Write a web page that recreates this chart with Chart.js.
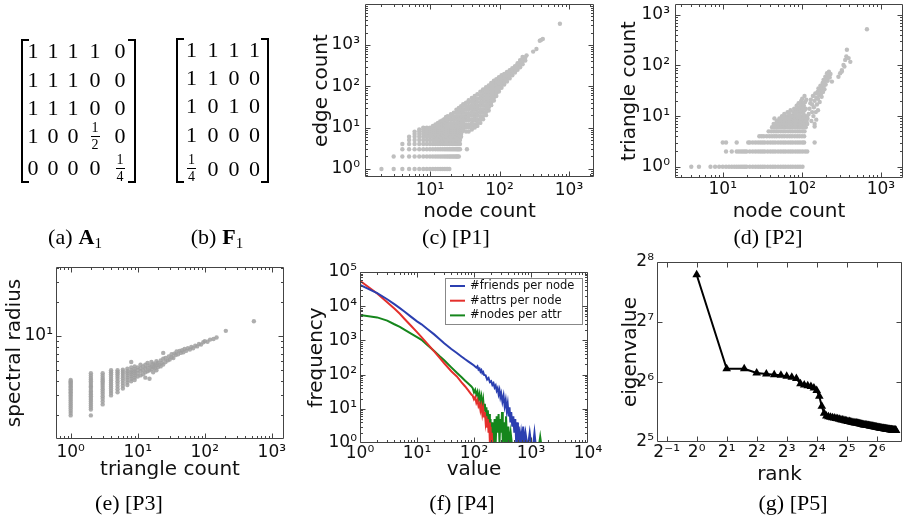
<!DOCTYPE html>
<html>
<head>
<meta charset="utf-8">
<script src="https://cdn.jsdelivr.net/npm/chart.js@4.4.1/dist/chart.umd.min.js"></script>
<style>
html, body { margin: 0; padding: 0; background: #fff; }
#fig { position: relative; width: 906px; height: 519px; overflow: hidden; background: #fff; }
#fig canvas { position: absolute; left: 0; top: 0; }
.cap { position: absolute; font-family: "Liberation Serif", serif; font-size: 22px; line-height: 1;
       transform: translate(-50%, -50%); white-space: nowrap; color: #000; }
.cap b { margin-left: 6px; }
.cap sub { font-size: 15px; vertical-align: -4px; line-height: 0; }
.br { position: absolute; box-sizing: border-box; border: 2px solid #000; width: 8px; }
.br.l { border-right: none; }
.br.r { border-left: none; }
.mx { position: absolute; display: grid; font-family: "Liberation Serif", serif; font-size: 22px; line-height: 1; color: #000; }
.mx > span { display: flex; align-items: center; justify-content: center; }
.fr { display: inline-flex; flex-direction: column; align-items: center; font-size: 14px; line-height: 1; }
.fr i { font-style: normal; padding: 0 1px; }
.fr i:first-child { border-bottom: 1px solid #000; padding-bottom: 1px; margin-bottom: 1px; }
</style>
</head>
<body>
<div id="fig">
  <canvas id="p1" width="906" height="519"></canvas>
  <canvas id="p2" width="906" height="519"></canvas>
  <canvas id="p3" width="906" height="519"></canvas>
  <canvas id="p4" width="906" height="519"></canvas>
  <canvas id="p5" width="906" height="519"></canvas>

  <div class="br l" style="left:21px;top:39px;height:144px"></div>
  <div id="mA" class="mx" style="left:23px;top:36px;grid-template-columns:20px 20px 20px 24px 26px;grid-template-rows:29px 29px 28px 28px 36px"></div>
  <div class="br r" style="left:128px;top:39px;height:144px"></div>

  <div class="br l" style="left:176px;top:38px;height:145px"></div>
  <div id="mF" class="mx" style="left:181px;top:35px;grid-template-columns:21px 22px 20px 21px;grid-template-rows:29px 28px 28px 30px 37px"></div>
  <div class="br r" style="left:261px;top:38px;height:145px"></div>

  <div class="cap" style="left:75px;top:237px">(a)<b>A</b><sub>1</sub></div>
  <div class="cap" style="left:217px;top:237px">(b)<b>F</b><sub>1</sub></div>
  <div class="cap" style="left:456px;top:237px">(c) [P1]</div>
  <div class="cap" style="left:768px;top:237px">(d) [P2]</div>
  <div class="cap" style="left:129px;top:503px">(e) [P3]</div>
  <div class="cap" style="left:462px;top:503px">(f) [P4]</div>
  <div class="cap" style="left:793px;top:503px">(g) [P5]</div>
</div>

<script>
// ---------- data ----------
const matA = [['1','1','1','1','0'], ['1','1','1','0','0'], ['1','1','1','0','0'], ['1','0','0','1/2','0'], ['0','0','0','0','1/4']];
const matF = [['1','1','1','1'], ['1','1','0','0'], ['1','0','1','0'], ['1','0','0','0'], ['1/4','0','0','0']];

// (c) P1: node count vs edge count. rows: [edges, node counts]
const p1Rows = [
  [1, [2,3,4,5,6,7,8,9,10,11,12,13,14,15,16,17,18,19]],
  [2, [3,4,5,6,7,8,9,10,11,12,13,14,15,16,17,18,19,20,21,22,23,24,25,26]],
  [3, [4,5,6,7,8,9,10,11,12,13,14,15,16,17,18,19,20,21,22,23,24,25,26,27,34]],
  [4, [4,5,6,7,8,9,10,11,12,13,14,15,16,17,18,19,20,21,22,23,24,25,26,27]],
  [5, [5,6,7,8,9,10,11,12,13,14,15,16,17,18,19,20,21,22,23,24,25,26,27]],
  [6, [5,6,7,8,9,10,11,12,13,14,15,16,17,18,19,20,21,22,23,24,25,26,27,28]],
  [7, [6,7,8,9,10,11,12,13,14,15,16,17,18,19,20,21,22,23,24,25,26,27,28]],
  [8, [6,7,8,9,10,11,12,13,14,15,16,17,18,19,20,21,22,23,24,25,26,27,28,29]],
  [9, [7,8,9,10,11,12,13,14,15,16,17,18,19,20,21,22,23,24,25,26,27,28,29]],
  [10, [8,9,10,11,12,13,14,15,16,17,18,19,20,21,22,23,24,25,26,27,28,29,30]]
];
// cloud: [node count, edge counts]
const p1Cloud = [
  [11, [11]], [12, [11, 12]], [13, [11, 12, 13]], [14, [11, 12, 13, 14]],
  [15, [11, 13, 15]], [16, [11, 13, 15, 16]], [17, [11, 13, 15, 17, 18]],
  [18, [11, 13, 15, 17, 19]], [20, [11, 13, 16, 19, 21]], [22, [11, 13, 16, 19, 23]],
  [24, [11, 13, 16, 19, 23, 27]], [26, [11, 13, 16, 19, 23, 28, 30]],
  [28, [11, 13, 16, 19, 23, 28, 33]], [30, [9, 11, 13, 16, 19, 23, 28, 34, 37]],
  [33, [8, 10, 12, 15, 18, 22, 27, 33, 40]], [36, [8, 10, 12, 15, 18, 22, 27, 33, 40, 46]],
  [40, [9, 11, 13, 16, 20, 24, 29, 35, 42, 52]], [44, [10, 12, 15, 18, 22, 27, 33, 40, 48, 58]],
  [48, [11, 13, 16, 20, 24, 29, 35, 42, 51, 64]], [53, [13, 16, 19, 23, 28, 34, 41, 50, 60, 74]],
  [58, [16, 19, 23, 28, 34, 41, 49, 58, 70, 84]], [64, [20, 24, 29, 35, 42, 50, 60, 72, 84, 95]],
  [70, [26, 31, 37, 44, 52, 62, 74, 88, 105]], [76, [35, 41, 48, 57, 67, 79, 93, 108, 120]],
  [83, [45, 53, 62, 73, 86, 100, 118, 136]], [90, [58, 68, 80, 94, 110, 128, 148]],
  [98, [75, 87, 100, 116, 134, 155, 165]], [107, [92, 106, 122, 140, 162, 185]],
  [117, [110, 127, 146, 168, 200]], [128, [130, 150, 172, 198, 222]],
  [140, [155, 178, 205, 245]], [153, [185, 212, 242, 275]], [167, [215, 245, 275, 308]],
  [182, [250, 290, 330, 360]], [198, [290, 335, 385, 430]], [215, [340, 400, 460, 510]], [235, [420, 500]]
];
const p1Extra = [[245,560],[305,690],[340,800],[380,1260],[400,1330],[420,1400],[740,3250]];

// (d) P2: node count vs triangle count. rows: [triangles, node counts]
const p2Rows = [
  [1, [4,5,7,8,9,10,11,12,13,14,15,16,17,18,19,20,22,24,26,28,30,32,34,37,40,43,46,50,54,58,62,67,72,77,83,89,95,102]],
  [2, [11,13,15,16,17,18,19,20,22,24,26,28,30,32,34,37,40,43,46,50,54,58,62,67,72,77,83,89,95,102,110,117]],
  [3, [10,11,15,21,22,24,26,28,30,32,34,37,40,43,46,50,54,58,62,67,72,77,83,89,95,102,107,145]],
  [4, [29,31,33,36,39,42,45,48,52,56,60,65,70,75,81,87,93,100,107]],
  [5, [38,41,44,47,50,54,58,62,67,72,77,83,89,95,102,108]],
  [6, [42,45,48,52,56,60,65,70,75,81,87,93,100,106,112]],
  [7, [44,47,51,55,59,64,70,76,82,88,94,100,107,117,145]],
  [8, [48,52,56,60,65,70,76,82,88,94,100,107,115]],
  [9, [55,59,64,70,76,82,88,95,102,110]],
  [10, [60,65,70,76,82,88,95,102,110,117]]
];
const p2Cloud = [
  [45,9],[52,9],[56,10],[60,11],[64,9],[66,12],[70,9],[70,11],[72,13],[75,10],[78,12],[80,14],
  [82,11],[85,13],[86,16],[88,9.5],[88,12],[90,14],[91,18],[93,11],[94,15],[95,9.5],[96,13],
  [97,17],[98,20],[100,12],[100,15],[101,22],[103,14],[104,9.5],[104,18],[105,11],[106,16],
  [108,13],[108,25],[110,19],[112,14],[114,21],
  [118,9],[122,11],[125,14],[128,18],[130,21],[132,8],[135,12],[135,17],[138,25],[140,10],
  [142,15],[145,20],[145,6.2],[148,28],[150,12],[152,8.5],[152,23],[155,17],[158,30],[160,13],
  [160,22],[162,35],[165,26],[168,19],[170,32],[172,40],[175,28],[178,24],[180,36],[183,45],
  [185,30],[188,52],[190,40],[193,34],[195,48],[198,60],[200,42],[205,55],[208,70],[212,50],
  [215,65],[220,75],[225,58],[230,68],[240,48],
  [290,60],[305,70],[320,76],[320,81],[336,102],[345,95],[353,129],[365,150],[371,204],[390,140],[410,118],[665,519]
];

// (e) P3: triangle count vs spectral radius. columns: [triangles, radii]
const p3Cols = [
  [1, [2.0,2.1,2.2,2.3,2.4,2.5,2.6,2.7,2.8,2.9,3.0,3.1,3.2,3.3,3.4,3.5,3.6,3.7,3.8,3.9,4.0,4.1]],
  [2, [2.0,2.25,2.35,2.45,2.55,2.65,2.75,2.85,2.95,3.05,3.15,3.25,3.35,3.5,3.6,3.7,3.85,4.0,4.15,4.3,4.5,4.7]],
  [3, [2.5,2.65,2.8,2.95,3.1,3.25,3.4,3.55,3.7,3.85,4.0,4.15,4.3,4.5,4.7]],
  [4, [3.0,3.15,3.3,3.45,3.6,3.75,3.9,4.05,4.2,4.4,4.6,4.8,5.0]],
  [5, [3.2,3.4,3.6,3.8,4.0,4.2,4.4,4.6,4.8,5.0]],
  [6, [3.45,3.65,3.85,4.05,4.25,4.45,4.65,4.85,5.05]],
  [7, [3.7,3.9,4.1,4.3,4.5,4.7,4.9,5.15]],
  [8, [4.0,4.2,4.4,4.6,4.8,5.0,5.3,5.9]],
  [9, [4.1,4.3,4.5,4.7,4.9,5.1,5.4]]
];
const p3Band = [
  [10,4.4],[10,4.7],[10,5.0],[10,5.3],[11,4.5],[11,4.9],[11,5.2],[11,5.6],[12,4.6],[12,5.0],[12,5.4],
  [13,4.3],[13,4.8],[13,5.2],[13,5.6],[14,4.9],[14,5.3],[14,5.8],[15,4.2],[15,5.0],[15,5.5],
  [16,5.1],[16,5.4],[16,5.9],[17,4.8],[17,5.3],[17,5.7],[18,5.2],[18,5.6],[19,5.0],[19,5.5],[19,6.0],
  [20,5.3],[20,5.8],[21,5.6],[22,5.4],[22,6.1],[23,5.8],[24,5.6],[24,6.3],[24,7.1],[26,5.9],[26,6.4],
  [28,6.1],[29,6.6],[30,6.2],[32,6.5],[32,6.9],[34,6.4],[35,7.0],[37,6.8],[38,7.3],[40,6.9],[42,7.4],
  [44,7.1],[46,7.5],[48,7.2],[50,7.7],[53,7.4],[56,7.8],[60,7.6],[63,8.0],[67,7.8],[72,8.2],[77,8.1],
  [82,8.5],[88,8.4],[95,8.8],[100,9.0],[110,8.9],[120,9.3],[135,9.4],[150,9.7],[206,11.1],[540,13.5]
];

// (f) P4: value vs frequency
const p4Friends = [[1,42000],[2,24000],[3,16000],[4,11500],[5,8800],[6,7000],[8,4800],[10,3600],[12,2950],[15,2200],
  [20,1500],[25,1080],[30,820],[40,560],[50,430],[60,340],[70,280],[80,240],[90,210],[100,185],[110,160],[115,175],
  [120,140],[125,150],[130,122],[135,135],[140,110],[145,118],[150,98],[160,95],[170,72],[180,80],[190,60],[200,64],
  [210,50],[220,56],[230,42],[240,48],[250,34],[260,40],[270,27],[280,35],[290,22],[300,28],[315,16],[330,24],
  [345,12],[360,18],[375,9],[390,14],[405,6],[420,11],[435,4],[450,8],[470,3],[490,6],[510,2],[530,5],[550,1],
  [570,4],[590,1],[610,3],[640,1],[670,2],[700,1],[730,3],[760,1],[800,2],[850,1],[900,1],[950,2],[1000,1],
  [1100,1],[1150,2],[1200,1],[1300,1]];
const p4Attrs = [[1,55000],[2,23500],[3,13000],[4,8500],[5,6000],[6,4300],[8,2600],[10,1750],[12,1250],[15,820],
  [20,480],[25,310],[30,215],[40,125],[50,88],[60,60],[70,45],[80,34],[90,26],[95,24],[100,19],[105,22],[110,15],
  [115,18],[120,12],[125,14],[130,9],[135,12],[140,7],[145,10],[150,6],[155,8],[160,4],[165,6],[170,3],[175,5],
  [180,2],[185,4],[190,1],[195,3],[200,1],[205,2],[210,1],[220,1]];
const p4Nodes = [[1,5500],[2,4700],[3,3800],[4,2970],[5,2480],[6,2060],[8,1550],[10,1245],[12,1040],[15,746],
  [20,493],[25,343],[30,262],[40,163],[50,113],[60,85],[70,66],[80,54],[90,45],[95,40],[100,30],[105,36],[110,26],
  [115,32],[120,20],[125,27],[130,15],[135,22],[140,12],[145,18],[150,9],[155,14],[160,7],[165,11],[170,5],[175,9],
  [180,3],[185,7],[190,2],[195,5],[200,1],[210,4],[220,1],[230,5],[240,1],[250,6],[260,2],[270,7],[280,1],[290,5],
  [300,2],[310,8],[320,1],[335,4],[350,1],[365,6],[380,1],[400,3],[420,1],[440,2],[460,1],[600,1],[1400,1],
  [1450,1.5],[1500,1],[3000,1]];
const p4Labels = ['#friends per node', '#attrs per node', '#nodes per attr'];

// (g) P5: eigenvalues by rank (rank = position + 1)
const p5Eigen = [
  221, 74.6, 74.5, 71.0, 70.2, 69.6, 69.1, 68.3, 67.7, 66.6,
  62.8, 61.8, 61.2, 60.8, 59.8, 58.0, 54.3, 48.3, 44.6, 43.2,
  42.9, 42.6, 42.4, 42.2, 42.0, 41.8, 41.6, 41.4, 41.3, 41.1,
  40.9, 40.8, 40.6, 40.5, 40.3, 40.2, 40.1, 40.0, 39.9, 39.8,
  39.7, 39.6, 39.5, 39.4, 39.3, 39.2, 39.1, 39.0, 38.95, 38.9,
  38.8, 38.75, 38.7, 38.6, 38.55, 38.5, 38.4, 38.35, 38.3, 38.2,
  38.15, 38.1, 38.0, 37.9, 37.85, 37.8, 37.75, 37.7, 37.65, 37.6,
  37.55, 37.5, 37.45, 37.4, 37.36, 37.32, 37.28, 37.24, 37.2, 37.16,
  37.12, 37.08, 37.04, 37.0, 36.97, 36.94, 36.91, 36.88, 36.85, 36.82,
  36.79, 36.76, 36.73, 36.7, 36.68, 36.66, 36.64, 36.62, 36.6, 36.58
];

// tick labels
const dec = [1, 10, 100, 1000, 10000, 100000];
const decLabels = ['10⁰', '10¹', '10²', '10³', '10⁴', '10⁵'];
const pow2 = [0.5, 1, 2, 4, 8, 16, 32, 64, 128, 256];
const pow2Labels = ['2⁻¹', '2⁰', '2¹', '2²', '2³', '2⁴', '2⁵', '2⁶', '2⁷', '2⁸'];

// ---------- helpers ----------
const FONT = '"DejaVu Sans", sans-serif';

function fillMatrix(el, m) {
  m.flat().forEach(v => {
    const c = document.createElement('span');
    if (v.includes('/')) {
      const [n, d] = v.split('/');
      c.innerHTML = '<span class="fr"><i>' + n + '</i><i>' + d + '</i></span>';
    } else {
      c.textContent = v;
    }
    el.appendChild(c);
  });
}
fillMatrix(document.getElementById('mA'), matA);
fillMatrix(document.getElementById('mF'), matF);

function minorTicks(min, max) {
  const out = [];
  for (let e = Math.floor(Math.log10(min)); e <= Math.ceil(Math.log10(max)); e++) {
    for (let m = 2; m <= 9; m++) {
      const v = m * Math.pow(10, e);
      if (v > min && v < max) out.push(v);
    }
  }
  return out;
}

function logAxis(o) {
  const major = o.major.filter(v => v >= o.min && v <= o.max);
  const minor = o.base2 ? [] : minorTicks(o.min, o.max);
  const labelOf = v => {
    const i = o.major.indexOf(v);
    return i < 0 ? '' : o.labels[i];
  };
  return {
    type: 'logarithmic', min: o.min, max: o.max, bounds: 'data',
    grid: { display: false, drawTicks: false }, border: { display: false },
    title: { display: true, text: o.title, color: '#111', padding: o.titlePad, font: { family: FONT, size: 20 } },
    ticks: {
      autoSkip: false, maxRotation: 0, padding: o.tickPad, color: '#111',
      font: { family: FONT, size: 17 },
      callback: v => labelOf(v)
    },
    afterBuildTicks: s => {
      s.ticks = major.map(v => ({ value: v, major: true }))
        .concat(minor.map(v => ({ value: v, major: false })))
        .sort((a, b) => a.value - b.value);
    },
    afterFit: s => {
      if (s.isHorizontal()) s.height = o.size; else s.width = o.size;
      s.paddingLeft = s.paddingRight = s.paddingTop = s.paddingBottom = 0;
    }
  };
}

// frame with inward ticks on all four sides
const frameTicks = {
  id: 'frameTicks',
  afterDraw(chart) {
    const { ctx, chartArea: a, scales } = chart;
    const L = Math.round(a.left) + 0.5, R = Math.round(a.right) - 0.5;
    const T = Math.round(a.top) + 0.5, B = Math.round(a.bottom) - 0.5;
    ctx.save();
    ctx.strokeStyle = '#444';
    ctx.lineWidth = 1;
    ctx.beginPath();
    ctx.rect(L, T, R - L, B - T);
    [scales.x, scales.y].forEach(s => {
      s.ticks.forEach(t => {
        const p = Math.round(s.getPixelForValue(t.value)) + 0.5;
        const len = t.major ? 5 : 2.5;
        if (s.isHorizontal()) {
          if (p < L || p > R) return;
          ctx.moveTo(p, B); ctx.lineTo(p, B - len);
          ctx.moveTo(p, T); ctx.lineTo(p, T + len);
        } else {
          if (p < T || p > B) return;
          ctx.moveTo(L, p); ctx.lineTo(L + len, p);
          ctx.moveTo(R, p); ctx.lineTo(R - len, p);
        }
      });
    });
    ctx.stroke();
    ctx.restore();
  }
};

// boxed legend in the upper right of the plot area
const boxLegend = {
  id: 'boxLegend',
  afterDatasetsDraw(chart) {
    const { ctx, chartArea: a } = chart;
    const x0 = Math.round(a.right) - 143, y0 = Math.round(a.top) + 6, w = 138, h = 47;
    ctx.save();
    ctx.fillStyle = '#fff';
    ctx.fillRect(x0, y0, w, h);
    ctx.strokeStyle = '#888';
    ctx.lineWidth = 1;
    ctx.strokeRect(x0 + 0.5, y0 + 0.5, w - 1, h - 1);
    ctx.font = '11.5px ' + FONT;
    ctx.textBaseline = 'middle';
    chart.data.datasets.forEach((ds, i) => {
      const y = y0 + 8 + i * 14.7;
      ctx.strokeStyle = ds.borderColor;
      ctx.lineWidth = 2;
      ctx.beginPath(); ctx.moveTo(x0 + 5, y); ctx.lineTo(x0 + 20, y); ctx.stroke();
      ctx.fillStyle = '#111';
      ctx.fillText(ds.label, x0 + 25, y);
    });
    ctx.restore();
  }
};

function panel(id, datasets, x, y, pad, extra) {
  return new Chart(document.getElementById(id), {
    type: 'scatter',
    data: { datasets: datasets },
    options: {
      responsive: false, animation: false, events: [],
      layout: { autoPadding: false, padding: pad },
      plugins: { legend: { display: false }, tooltip: { enabled: false } },
      scales: { x: logAxis(x), y: logAxis(y) }
    },
    plugins: [frameTicks].concat(extra || [])
  });
}

const pts = d => d.map(([x, y]) => ({ x: x, y: y }));
const rowPts = rows => rows.flatMap(([y, xs]) => xs.map(x => ({ x: x, y: y })));
const colPts = cols => cols.flatMap(([x, ys]) => ys.map(y => ({ x: x, y: y })));
const dots = (data, color) => ({ data: data, backgroundColor: color, borderWidth: 0, pointRadius: 2.2 });
const line = (label, data, color) => ({ label: label, data: pts(data), showLine: true, borderColor: color, borderWidth: 2, pointRadius: 0, tension: 0 });

// (c)
panel('p1',
  [dots(rowPts(p1Rows).concat(colPts(p1Cloud), pts(p1Extra)), '#bfbfbf')],
  { min: 1.16, max: 2290, major: dec, labels: decLabels, title: 'node count', size: 49, titlePad: 2, tickPad: 3 },
  { min: 0.638, max: 9800, major: dec, labels: decLabels, title: 'edge count', size: 63, titlePad: 8, tickPad: 5 },
  { left: 302, top: 4, right: 312, bottom: 293 });

// (d)
panel('p2',
  [dots(rowPts(p2Rows).concat(pts(p2Cloud)), '#bfbfbf')],
  { min: 2.49, max: 1900, major: dec, labels: decLabels, title: 'node count', size: 48, titlePad: 2, tickPad: 1 },
  { min: 0.598, max: 1640, major: dec, labels: decLabels, title: 'triangle count', size: 65, titlePad: 8, tickPad: 5 },
  { left: 610, top: 4, right: 3, bottom: 293 });

// (e)
panel('p3',
  [dots(colPts(p3Cols).concat(pts(p3Band)), 'rgba(160,160,160,0.85)')],
  { min: 0.604, max: 1520, major: dec, labels: decLabels, title: 'triangle count', size: 45, titlePad: 2, tickPad: 3 },
  { min: 1.24, max: 40.5, major: dec, labels: decLabels, title: 'spectral radius', size: 56, titlePad: 3, tickPad: 3 },
  { left: 0, top: 267, right: 622, bottom: 35 });

// (f)
panel('p4',
  [line(p4Labels[0], p4Friends, '#2b3fb0'), line(p4Labels[1], p4Attrs, '#e4302c'), line(p4Labels[2], p4Nodes, '#15861c')],
  { min: 1, max: 10000, major: dec, labels: decLabels, title: 'value', size: 41, titlePad: 2, tickPad: 0 },
  { min: 1, max: 100000, major: dec, labels: decLabels, title: 'frequency', size: 60, titlePad: 5, tickPad: 3 },
  { left: 300, top: 272, right: 318, bottom: 35 },
  [boxLegend]);

// (g)
panel('p5',
  [{ data: p5Eigen.map((v, i) => ({ x: i + 1, y: v })), showLine: true, borderColor: '#000', borderWidth: 2,
     pointStyle: 'triangle', pointRadius: 5, backgroundColor: '#000', pointBorderWidth: 0, tension: 0 }],
  { min: 0.4, max: 114.8, major: pow2, labels: pow2Labels, base2: true, title: 'rank', size: 47, titlePad: 2, tickPad: 0 },
  { min: 32, max: 256, major: pow2, labels: pow2Labels, base2: true, title: 'eigenvalue', size: 46, titlePad: 8, tickPad: 3 },
  { left: 611, top: 262, right: 4, bottom: 30 });
</script>
</body>
</html>
